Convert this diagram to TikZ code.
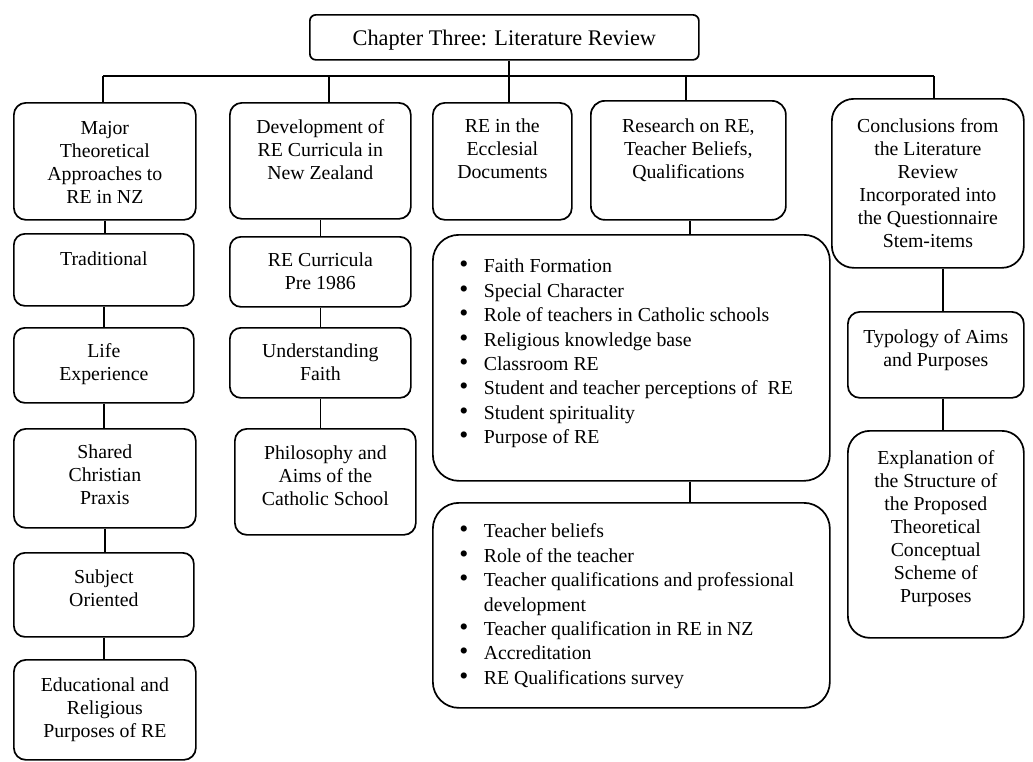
\documentclass[tikz,border=0pt]{standalone}
\usepackage{fontspec}
\setmainfont{Liberation Serif}

% text block of fixed size, first baseline #3 below the top edge
\newcommand\cellbox[4]{%
  \parbox[c][#2pt][t]{#1pt}{\centering\vspace*{\dimexpr#3pt-.7\baselineskip\relax}\strut#4\par}}
% bullet list block of fixed size
\newcommand\listbox[4]{%
  \parbox[c][#2pt][t]{#1pt}{\raggedright\leftskip=51pt\relax
    \vspace*{\dimexpr#3pt-.7\baselineskip\relax}#4\par}}
\newcommand\bigdot{\smash{\scalebox{1.3}{\textbullet}}}
\newcommand\bitem{\par\noindent\strut\llap{\bigdot\hspace{15.5pt}}}

\begin{document}
\begin{tikzpicture}[x=1pt,y=-1pt,
  cell/.style={draw, line width=1.7pt, inner sep=0pt, anchor=north west,
    rounded corners=#1, font=\fontsize{19.8pt}{23pt}\selectfont},
  cell/.default=11pt,
  listcell/.style={cell=26pt, font=\fontsize{19.8pt}{24.4pt}\selectfont},
  link/.style={line width=1.7pt}]
\useasboundingbox (0,0) rectangle (1033,761);

% heading
\node[cell=6pt, font=\fontsize{22.3pt}{26pt}\selectfont] (title) at (309,14)
  {\cellbox{389}{45}{31}{Chapter Three: Literature Review}};

% first row
\node[cell=12pt] (c1) at (13,102) {\cellbox{182}{117}{32}{Major\\Theoretical\\Approaches to\\RE in NZ}};
\node[cell=12pt] (c2) at (229,102) {\cellbox{181}{116}{31}{Development of\\RE Curricula in\\New Zealand}};
\node[cell=12pt] (c3) at (432,102) {\cellbox{139}{117}{30}{RE in the\\Ecclesial\\Documents}};
\node[cell=14pt] (c4) at (590,100) {\cellbox{195}{119}{32}{Research on RE,\\Teacher Beliefs,\\Qualifications}};
\node[cell=22pt] (c5) at (831,98) {\cellbox{192}{169}{34}{Conclusions from\\the Literature\\Review\\Incorporated into\\the Questionnaire\\Stem-items}};

% first column
\node[cell=11pt] (trad) at (13,233) {\cellbox{180}{72}{32}{Traditional}};
\node[cell=11pt] (life) at (13,327) {\cellbox{180}{75}{30}{Life\\Experience}};
\node[cell=12pt] (shared) at (13,428) {\cellbox{182}{99}{30}{Shared\\Christian\\Praxis}};
\node[cell=11pt] (subj) at (13,552) {\cellbox{180}{84}{31}{Subject\\Oriented}};
\node[cell=12pt] (edu) at (13,659) {\cellbox{182}{100}{32}{Educational and\\Religious\\Purposes of RE}};

% second column
\node[cell=11pt] (recur) at (229,236) {\cellbox{181}{70}{30}{RE Curricula\\Pre 1986}};
\node[cell=11pt] (uf) at (229,327) {\cellbox{181}{70}{30}{Understanding\\Faith}};
\node[cell=12pt] (phil) at (234,428) {\cellbox{181}{106}{31}{Philosophy and\\Aims of the\\Catholic School}};

% research lists
\node[listcell] (b1) at (432,234) {\listbox{397}{246}{38}{%
  \bitem Faith Formation
  \bitem Special Character
  \bitem Role of teachers in Catholic schools
  \bitem Religious knowledge base
  \bitem Classroom RE
  \bitem Student and teacher perceptions of~ RE
  \bitem Student spirituality
  \bitem Purpose of RE}};
\node[listcell] (b2) at (432,502) {\listbox{397}{205}{35}{%
  \bitem Teacher beliefs
  \bitem Role of the teacher
  \bitem Teacher qualifications and professional\newline development
  \bitem Teacher qualification in RE in NZ
  \bitem Accreditation
  \bitem RE Qualifications survey}};

% conclusions column
\node[cell=12pt] (typ) at (847,311) {\cellbox{176}{86}{32}{Typology of Aims\\and Purposes}};
\node[cell=22pt] (expl) at (847,430) {\cellbox{176}{207}{34}{Explanation of\\the Structure of\\the Proposed\\Theoretical\\Conceptual\\Scheme of\\Purposes}};

% bus from the heading
\coordinate (j1) at (103,76);
\coordinate (j2) at (329,76);
\coordinate (j3) at (509,76);
\coordinate (j4) at (686,76);
\coordinate (j5) at (934,76);
\draw[link] (j1) -- (j5);
\draw[link] (title.south -| j3) -- (j3) -- (j3 |- c3.north);
\draw[link] (j1) -- (j1 |- c1.north);
\draw[link] (j2) -- (j2 |- c2.north);
\draw[link] (j4) -- (j4 |- c4.north);
\draw[link] (j5) -- (j5 |- c5.north);

% vertical chains
\draw[link] (c1.south) -- (c1.south |- trad.north);
\draw[link] (trad.south) -- (trad.south |- life.north);
\draw[link] (life.south) -- (life.south |- shared.north);
\draw[link] (shared.south) -- (shared.south |- subj.north);
\draw[link] (subj.south) -- (subj.south |- edu.north);

\draw[link] (c2.south) -- (c2.south |- recur.north);
\draw[link] (recur.south) -- (recur.south |- uf.north);
\draw[link] (uf.south) -- (uf.south |- phil.north);

\coordinate (k4) at (690,0);
\draw[link] (c4.south -| k4) -- (b1.north -| k4);
\draw[link] (b1.south -| k4) -- (b2.north -| k4);

\coordinate (k5) at (943,0);
\draw[link] (c5.south -| k5) -- (typ.north -| k5);
\draw[link] (typ.south -| k5) -- (expl.north -| k5);
\end{tikzpicture}
\end{document}
